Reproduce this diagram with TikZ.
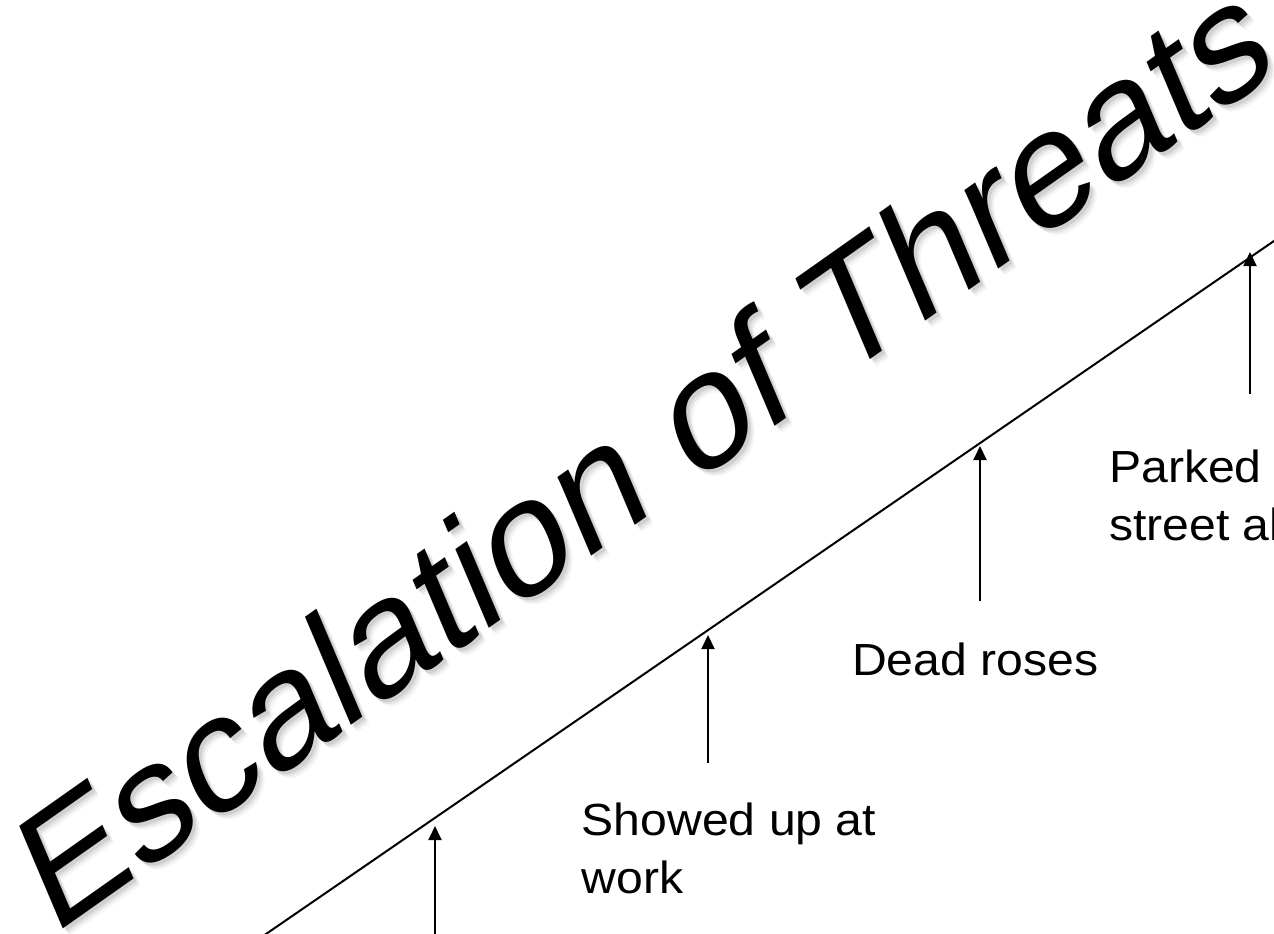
\documentclass[tikz,border=0pt]{standalone}
\usepackage{fontspec}
\setmainfont{Liberation Sans}
\usetikzlibrary{arrows.meta}
\begin{document}
\begin{tikzpicture}[x=1pt,y=-1pt,
  lbl/.style={inner sep=0pt, anchor=base west, align=left, font=\fontsize{45}{58}\selectfont, xscale=1.07},
  evt/.style={line width=2pt, -{Triangle[length=14pt,width=13pt]}},
  rail/.style={line width=2pt},
  ttl/.style={inner sep=0pt, anchor=base west, transform shape, font=\fontsize{100}{110}\selectfont}]
\useasboundingbox (0,0) rectangle (1274,934);
\clip (0,0) rectangle (1274,934);
% title with soft shadow
\foreach \dx/\dy/\op in {3/3/0.09,5/5/0.07,7/7/0.04}{
  \begin{scope}[shift={(51.9+\dx,937.1+\dy)}, cm={1.307,0.922,-0.633,1.491,(0,0)}]
    \node[ttl, text=black, opacity=\op] at (0,0) {Escalation of Threats};
  \end{scope}
}
\begin{scope}[shift={(51.9,937.1)}, cm={1.307,0.922,-0.633,1.491,(0,0)}]
  \node[ttl] (title) at (0,0) {Escalation of Threats};
\end{scope}
% rising line
\coordinate (L0) at (240,951.9);
\coordinate (L1) at (1300,223.1);
\draw[rail] (L0) -- (L1);
% events
\coordinate (a1s) at (435,945); \coordinate (a1t) at (435,826);
\coordinate (a2s) at (708,763); \coordinate (a2t) at (708,635);
\coordinate (a3s) at (980,601); \coordinate (a3t) at (980,446);
\coordinate (a4s) at (1250,394); \coordinate (a4t) at (1250,252);
\draw[evt] (a1s) -- (a1t);
\draw[evt] (a2s) -- (a2t);
\draw[evt] (a3s) -- (a3t);
\draw[evt] (a4s) -- (a4t);
\node[lbl] (l2) at (581.5,893) {Showed up at\\work};
\node[lbl] (l3) at (852,675) {Dead roses};
\node[lbl] (l4) at (1109,540) {Parked\\street al};
\end{tikzpicture}
\end{document}
